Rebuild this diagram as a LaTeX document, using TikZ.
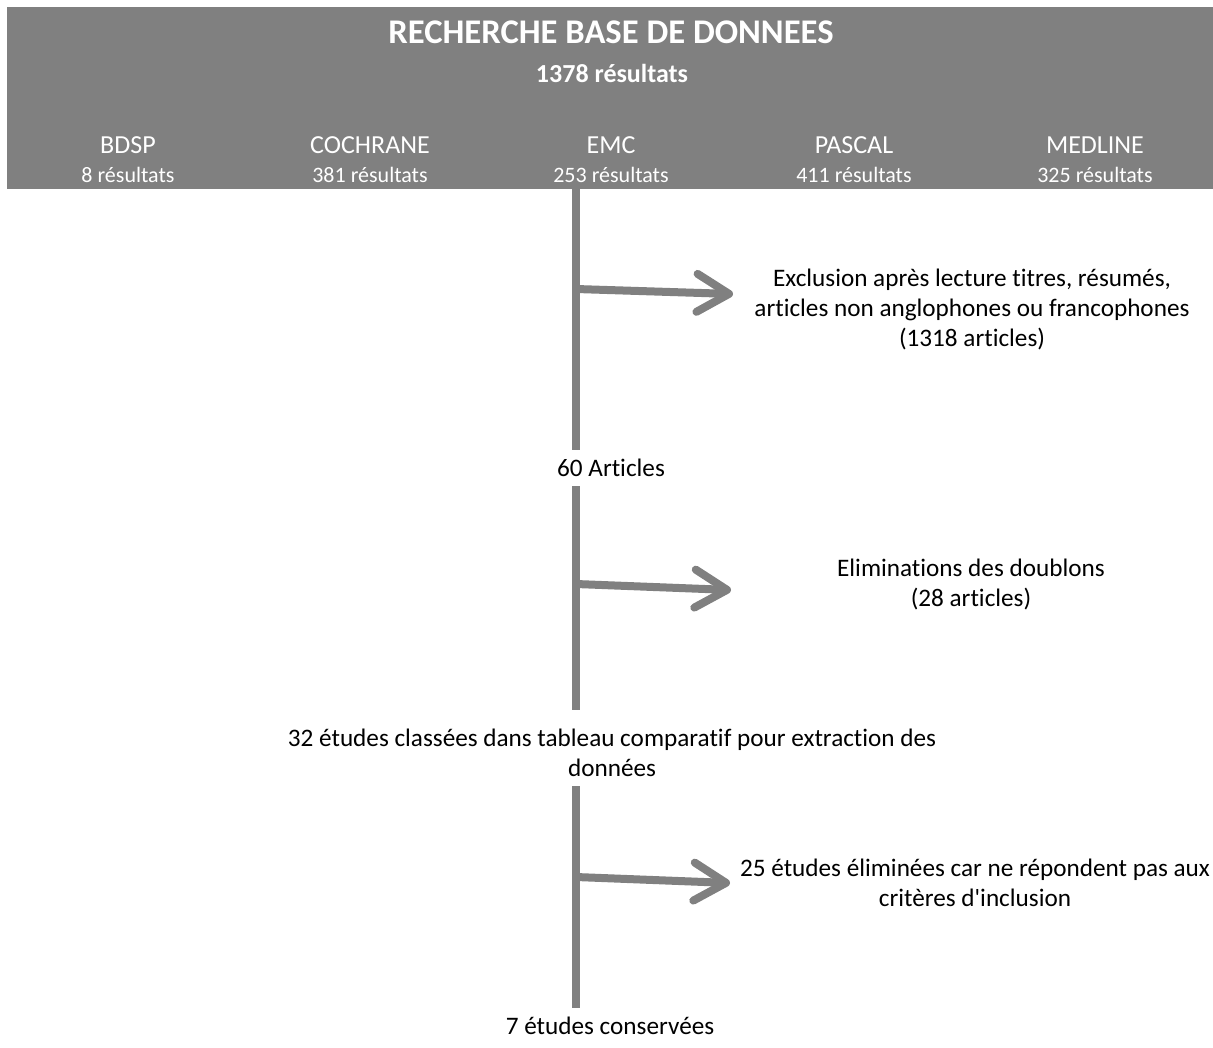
\documentclass[tikz,border=0pt]{standalone}
\usepackage{fontspec}
\setmainfont{Carlito}[Ligatures={TeX,NoCommon}]
\usetikzlibrary{arrows.meta}
\tikzset{
  trunk/.style={gray, line width=8pt},
  branch/.style={gray, line width=8pt, -{Straight Barb[length=32pt,width=38pt,round]}},
  hdtext/.style={text=white, inner sep=0pt, anchor=base},
  flowtext/.style={align=center, inner xsep=0pt, inner ysep=9pt, anchor=north, font=\fontsize{25.2}{30}\selectfont},
  sidetext/.style={align=center, inner sep=0pt, anchor=north, font=\fontsize{25.2}{30}\selectfont}
}

\begin{document}
\begin{tikzpicture}[x=1pt,y=-1pt]
\useasboundingbox (0,0) rectangle (1213,1047);
\node[fill=gray, inner sep=0pt, minimum width=1206pt, minimum height=182pt, anchor=north west] (header) at (7,7) {};
\node[hdtext, font=\fontsize{34.6}{40}\selectfont\bfseries] (titre) at (611,43) {RECHERCHE BASE DE DONNEES};
\node[hdtext, font=\fontsize{26}{30}\selectfont\bfseries] (total) at (612,82) {1378 résultats};
\node[hdtext, font=\fontsize{26}{30}\selectfont] (bdsp) at (128,153) {BDSP};
\node[hdtext, font=\fontsize{26}{30}\selectfont] (cochrane) at (370,153) {COCHRANE};
\node[hdtext, font=\fontsize{26}{30}\selectfont] (emc) at (611,153) {EMC};
\node[hdtext, font=\fontsize{26}{30}\selectfont] (pascal) at (854,153) {PASCAL};
\node[hdtext, font=\fontsize{26}{30}\selectfont] (medline) at (1095,153) {MEDLINE};
\node[hdtext, font=\fontsize{22}{26}\selectfont] (bdspnb) at (128,182) {8 résultats};
\node[hdtext, font=\fontsize{22}{26}\selectfont] (cochranenb) at (370,182) {381 résultats};
\node[hdtext, font=\fontsize{22}{26}\selectfont] (emcnb) at (611,182) {253 résultats};
\node[hdtext, font=\fontsize{22}{26}\selectfont] (pascalnb) at (854,182) {411 résultats};
\node[hdtext, font=\fontsize{22}{26}\selectfont] (medlinenb) at (1095,182) {325 résultats};

\node[flowtext] (art60) at (611,450) {60 Articles};
\node[flowtext] (etud32) at (612,720) {32 études classées dans tableau comparatif pour extraction des\\données};
\node[flowtext] (cons7) at (610,1008) {7 études conservées};
\node[sidetext] (excl) at (972,269) {Exclusion après lecture titres, résumés,\\articles non anglophones ou francophones\\(1318 articles)};
\node[sidetext] (doub) at (971,559) {Eliminations des doublons\\(28 articles)};
\node[sidetext] (crit) at (975,859) {25 études éliminées car ne répondent pas aux\\critères d\textquotesingle inclusion};

\coordinate (fork1) at (576,289);
\coordinate (fork2) at (576,584);
\coordinate (fork3) at (576,877);
\coordinate (tip1) at (733,294);
\coordinate (tip2) at (731,590);
\coordinate (tip3) at (730,883);

\draw[trunk] (header.south -| fork1) -- (art60.north -| fork1);
\draw[trunk, shorten >=10pt] (art60.south -| fork1) -- (etud32.north -| fork1);
\draw[trunk] (etud32.south -| fork1) -- (cons7.north -| fork1);
\draw[branch] (fork1) -- (tip1);
\draw[branch] (fork2) -- (tip2);
\draw[branch] (fork3) -- (tip3);
\end{tikzpicture}
\end{document}
